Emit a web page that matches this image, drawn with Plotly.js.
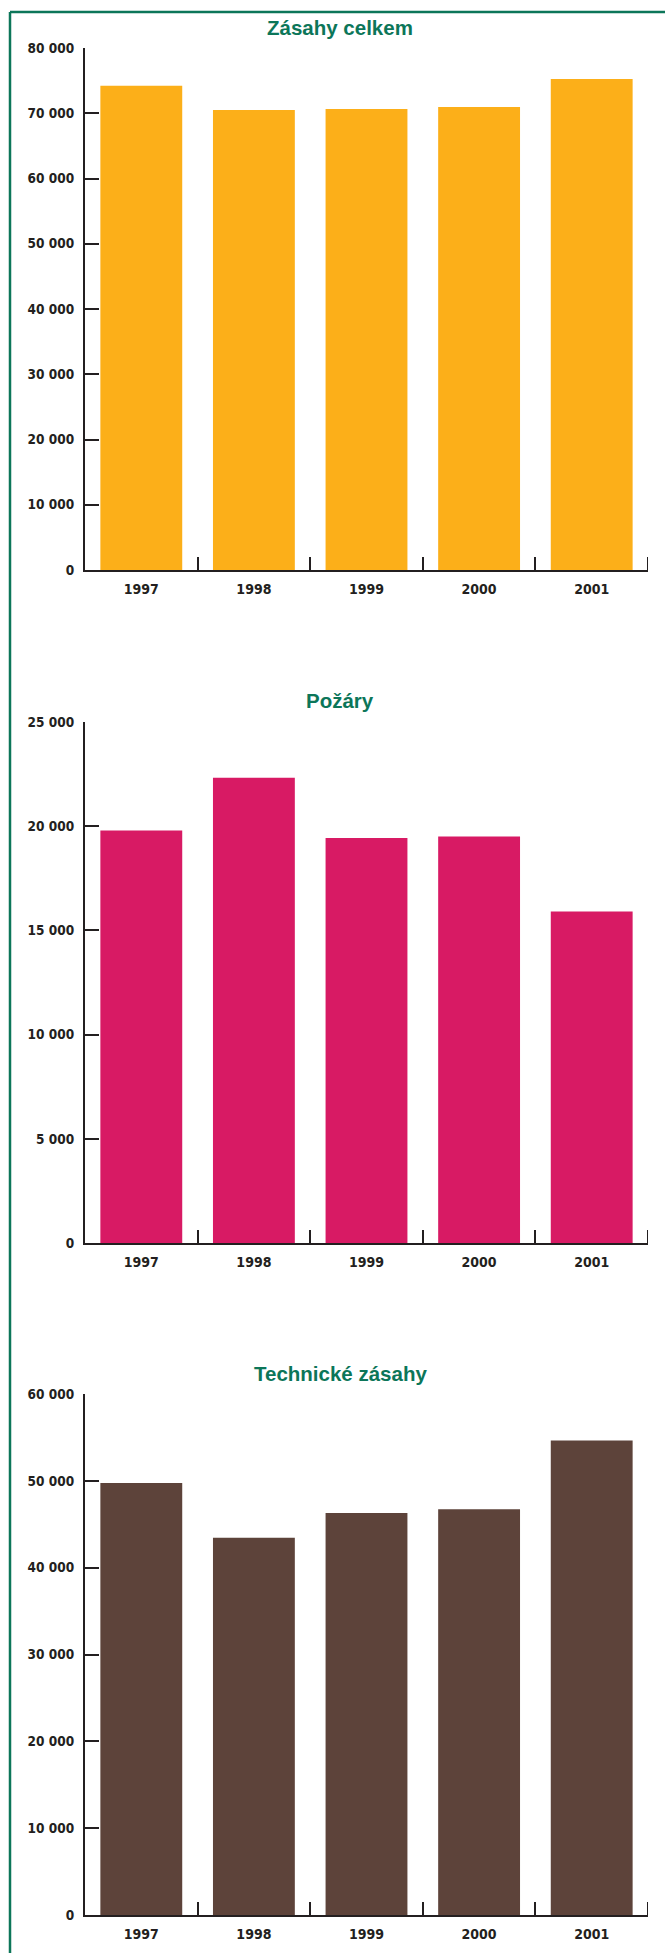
<!DOCTYPE html>
<html>
<head>
<meta charset="utf-8">
<script src="https://cdn.plot.ly/plotly-3.0.1.min.js"></script>
<style>
html,body{margin:0;padding:0;background:#fff;}
#chart{width:665px;height:1953px;}
</style>
</head>
<body>
<div id="chart"></div>
<script>
// ---- data ----
const years = ["1997", "1998", "1999", "2000", "2001"];
const titles = ["Zásahy celkem", "Požáry", "Technické zásahy"];
const zasahyCelkem = [74200, 70500, 70650, 70950, 75250];
const pozary = [19790, 22330, 19430, 19500, 15910];
const technickeZasahy = [49740, 43450, 46300, 46720, 54650];
const yMax = [80000, 25000, 60000];
const yStep = [10000, 5000, 10000];
const barColors = ["#FCAF19", "#D81A64", "#5D433A"];

// ---- layout geometry (pixels) ----
const W = 665, H = 1953;
const plotLeft = 85, plotRight = 648;
const panels = [
  {top: 48, bottom: 570, titleY: 27.5},
  {top: 722, bottom: 1243, titleY: 700},
  {top: 1394, bottom: 1915, titleY: 1373}
];
const series = [zasahyCelkem, pozary, technickeZasahy];
const ink = "#231F20";
const green = "#0C7659";
const tickFamily = "'DejaVu Sans Condensed', 'DejaVu Sans', sans-serif";
const py = v => 1 - v / H;

const data = [];
const layout = {
  width: W, height: H,
  margin: {l: 0, r: 0, t: 0, b: 0, pad: 0},
  paper_bgcolor: "#fff", plot_bgcolor: "rgba(0,0,0,0)",
  showlegend: false,
  separators: ", ",
  bargap: 0.273,
  annotations: [],
  shapes: [
    {type: "line", xref: "paper", yref: "paper", x0: 10 / W, x1: 1.01, y0: py(12), y1: py(12), line: {color: green, width: 2.5}},
    {type: "line", xref: "paper", yref: "paper", x0: 10 / W, x1: 10 / W, y0: py(12), y1: -0.01, line: {color: green, width: 2.5}}
  ]
};

panels.forEach((p, i) => {
  const n = i + 1;
  const sfx = n === 1 ? "" : String(n);
  data.push({
    type: "bar",
    x: years,
    y: series[i],
    xaxis: "x" + sfx,
    yaxis: "y" + sfx,
    marker: {color: barColors[i], line: {width: 0}},
    hoverinfo: "x+y"
  });
  layout["xaxis" + sfx] = {
    domain: [plotLeft / W, plotRight / W],
    anchor: "y" + sfx,
    type: "category",
    range: [-0.5, 4.5],
    showline: true, linecolor: ink, linewidth: 2.2,
    ticks: "inside", tickson: "boundaries", ticklen: 13, tickwidth: 2, tickcolor: ink,
    showgrid: false, zeroline: false,
    tickfont: {family: tickFamily, size: 14, color: ink, weight: "bold"},
    ticklabelstandoff: 5,
    fixedrange: true
  };
  layout["yaxis" + sfx] = {
    domain: [py(p.bottom), py(p.top)],
    anchor: "x" + sfx,
    range: [0, yMax[i]],
    dtick: yStep[i], tick0: 0,
    tickformat: ",d",
    showline: true, linecolor: ink, linewidth: 2.2,
    ticks: "inside", ticklen: 14, tickwidth: 2, tickcolor: ink,
    showgrid: false, zeroline: false,
    tickfont: {family: tickFamily, size: 13.5, color: ink, weight: "bold"},
    ticklabelstandoff: 6,
    fixedrange: true
  };
  // closing tick at the right end of the category axis
  layout.shapes.push({
    type: "line", xref: "x" + sfx, yref: "y" + sfx + " domain",
    x0: 4.5, x1: 4.5, y0: 0, y1: 13 / (p.bottom - p.top),
    line: {color: ink, width: 2}
  });
  layout.annotations.push({
    xref: "paper", yref: "paper",
    x: 340 / W, y: py(p.titleY),
    xanchor: "center", yanchor: "middle",
    text: titles[i], showarrow: false,
    font: {family: "Liberation Sans, Arial, sans-serif", size: 20.5, color: green, weight: "bold"}
  });
});

Plotly.newPlot("chart", data, layout, {displayModeBar: false, staticPlot: true});
</script>
</body>
</html>
